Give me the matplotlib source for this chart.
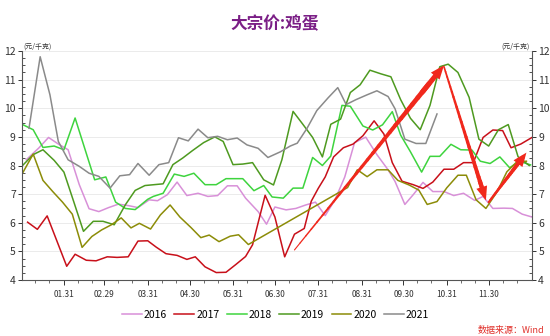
import matplotlib
matplotlib.use("Agg")
import matplotlib.pyplot as plt
import numpy as np
from matplotlib.collections import LineCollection
from matplotlib.ticker import FixedLocator, MultipleLocator

plt.rcParams['font.family'] = ['Noto Sans CJK SC', 'DejaVu Sans']

# x = dia del anio (base 2020, bisiesto), y = precio (元/千克)
d2016 = [4, 13, 20, 27, 34, 42, 49, 56, 63, 70, 77, 84, 92, 98, 105, 112, 119, 127, 134, 141, 148, 155, 161, 170,
         176, 182, 190, 197, 204, 211, 218, 225, 232, 239, 247, 255, 263, 268, 275, 281, 288, 295, 303, 310, 317,
         325, 331, 338, 346, 352, 359, 366]
v2016 = [8.2, 8.61, 8.98, 8.75, 8.55, 7.33, 6.49, 6.39, 6.53, 6.65, 6.6, 6.53, 6.8, 6.77, 6.98, 7.42, 6.95, 7.03,
         6.92, 6.95, 7.29, 7.29, 6.86, 6.39, 5.95, 6.55, 6.45, 6.5, 6.62, 6.72, 6.25, 6.8, 7.6, 8.8, 8.99, 8.38,
         7.85, 7.44, 6.64, 6.98, 7.41, 7.09, 7.09, 6.95, 7.03, 6.78, 6.92, 6.5, 6.51, 6.5, 6.3, 6.2]

d2017 = [5, 12, 19, 33, 39, 47, 54, 62, 69, 77, 84, 91, 97, 104, 112, 119, 125, 132, 140, 147, 154, 161, 166, 175,
         182, 189, 196, 203, 208, 213, 218, 224, 231, 238, 245, 253, 260, 266, 273, 281, 288, 295, 303, 310, 317,
         324, 331, 338, 345, 351, 358, 366]
v2017 = [6.02, 5.77, 6.24, 4.48, 4.9, 4.69, 4.67, 4.81, 4.79, 4.81, 5.36, 5.37, 5.15, 4.92, 4.86, 4.72, 4.81, 4.46,
         4.26, 4.27, 4.54, 4.82, 5.23, 6.96, 6.2, 4.81, 5.6, 5.8, 6.75, 7.2, 7.6, 8.3, 8.62, 8.75, 9.04, 9.56, 9.1,
         8.1, 7.45, 7.33, 7.2, 7.42, 7.87, 7.87, 8.1, 8.1, 8.98, 9.24, 9.22, 8.62, 8.75, 8.98]

d2018 = [1, 9, 16, 24, 31, 39, 53, 61, 68, 75, 82, 91, 95, 102, 110, 117, 124, 132, 140, 147, 159, 167, 174, 180,
         188, 195, 202, 209, 216, 222, 230, 236, 245, 252, 259, 266, 272, 279, 287, 293, 300, 308, 315, 323, 329,
         336, 343, 350, 357, 365]
v2018 = [9.44, 9.25, 8.63, 8.68, 8.55, 9.66, 7.5, 7.6, 6.72, 6.5, 6.46, 6.82, 6.92, 7.03, 7.7, 7.62, 7.73, 7.33,
         7.33, 7.54, 7.54, 7.12, 7.3, 6.9, 6.86, 7.21, 7.21, 8.28, 8.0, 8.33, 10.1, 10.07, 9.38, 9.24, 9.42, 9.88,
         9.06, 8.48, 7.77, 8.32, 8.32, 8.74, 8.55, 8.54, 8.15, 8.07, 8.3, 7.92, 8.15, 8.02]

d2019 = [1, 9, 16, 24, 31, 38, 45, 52, 59, 67, 75, 82, 89, 102, 109, 116, 123, 131, 139, 145, 152, 159, 166, 174,
         181, 187, 195, 202, 209, 216, 222, 229, 236, 243, 250, 258, 265, 272, 279, 286, 293, 300, 306, 313, 321,
         328, 335, 342, 349, 356, 364]
v2019 = [7.98, 8.38, 8.55, 8.18, 7.77, 6.74, 5.7, 6.05, 6.05, 5.93, 6.63, 7.13, 7.3, 7.36, 8.03, 8.26, 8.52, 8.8,
         9.0, 8.84, 8.03, 8.05, 8.1, 7.5, 7.32, 8.2, 9.89, 9.44, 8.98, 8.3, 9.44, 9.62, 10.55, 10.82, 11.33, 11.2,
         11.1, 10.3, 9.65, 9.25, 10.1, 11.45, 11.54, 11.25, 10.38, 8.92, 8.68, 9.25, 9.43, 8.31, 8.0]

d2020 = [1, 9, 16, 23, 30, 37, 44, 51, 58, 65, 72, 79, 85, 93, 100, 107, 114, 122, 129, 135, 142, 150, 156, 163,
         234, 241, 248, 255, 263, 270, 278, 285, 291, 298, 305, 313, 319, 326, 333, 341, 348, 355, 362]
v2020 = [7.7, 8.4, 7.48, 7.09, 6.72, 6.3, 5.14, 5.52, 5.75, 5.93, 6.17, 5.82, 5.98, 5.78, 6.27, 6.62, 6.2, 5.83,
         5.48, 5.57, 5.34, 5.53, 5.58, 5.24, 7.23, 7.85, 7.61, 7.85, 7.85, 7.48, 7.32, 7.14, 6.64, 6.74, 7.22, 7.66,
         7.66, 6.8, 6.5, 7.08, 7.78, 8.12, 8.15]

d2021 = [6, 14, 21, 27, 34, 42, 49, 56, 64, 71, 78, 84, 92, 99, 106, 113, 120, 127, 134, 141, 148, 155, 162, 170,
         177, 186, 193, 198, 205, 212, 220, 227, 233, 240, 248, 255, 263, 268, 275, 283, 290, 298]
v2021 = [9.3, 11.8, 10.47, 8.84, 8.2, 7.97, 7.73, 7.62, 7.21, 7.64, 7.68, 8.07, 7.66, 8.03, 8.1, 8.97, 8.86, 9.27,
         8.97, 9.02, 8.9, 8.96, 8.72, 8.6, 8.28, 8.48, 8.68, 8.78, 9.3, 9.92, 10.36, 10.72, 10.13, 10.3, 10.47,
         10.61, 10.41, 9.98, 8.92, 8.77, 8.77, 9.8]

series = [("2016", d2016, v2016, "#d890d8"),
          ("2017", d2017, v2017, "#c8101a"),
          ("2018", d2018, v2018, "#3ed43e"),
          ("2019", d2019, v2019, "#4e9a20"),
          ("2020", d2020, v2020, "#8c8c08"),
          ("2021", d2021, v2021, "#8a8a8a")]

# flechas rojas de anotacion: (desde, hasta, grosor inicial, grosor final)
flechas = [((196, 5.05), (303, 11.5), 0.8, 3.6),
           ((303, 11.45), (333, 6.78), 1.2, 3.0),
           ((335, 6.72), (362, 8.45), 1.5, 3.0)]
rojo = "#f0281c"

fin_mes = [31, 60, 91, 121, 152, 182, 213, 244, 274, 305, 335, 366]
etiquetas = ["01.31", "02.29", "03.31", "04.30", "05.31", "06.30", "07.31", "08.31", "09.30", "10.31", "11.30"]

fig = plt.figure(figsize=(5.5, 3.36), dpi=100)
ax = fig.add_axes([22/550., 1-280/336., 510/550., 229/336.])

for nombre, xs, ys, c in series:
    ax.plot(xs, ys, color=c, lw=1.1, label=nombre)

# flecha: cuerpo que se va engrosando + punta
for (x0, y0), (x1, y1), w0, w1 in flechas:
    t = np.linspace(0, 0.9, 25)
    px = x0 + (x1 - x0) * t
    py = y0 + (y1 - y0) * t
    segs = [[(px[i], py[i]), (px[i+1], py[i+1])] for i in range(len(t) - 1)]
    ax.add_collection(LineCollection(segs, colors=rojo, linewidths=np.linspace(w0, w1, len(segs)),
                                     capstyle="round", zorder=5))
    xa = x0 + (x1 - x0) * 0.85
    ya = y0 + (y1 - y0) * 0.85
    ax.annotate("", xy=(x1, y1), xytext=(xa, ya), zorder=6,
                arrowprops=dict(arrowstyle="simple,head_length=1.0,head_width=0.8,tail_width=%.2f" % (w1 / 10.),
                                color=rojo, lw=0, shrinkA=0, shrinkB=0, mutation_scale=10))

ax.set_xlim(1, 366)
ax.set_ylim(4, 12)
ax.xaxis.set_major_locator(FixedLocator(fin_mes[:11]))
ax.set_xticklabels(etiquetas)
minor = []
inicio = 0
for m in fin_mes:
    minor += [inicio + 10, inicio + 20]
    inicio = m
ax.xaxis.set_minor_locator(FixedLocator(minor))
ax.yaxis.set_major_locator(MultipleLocator(1))
ax.yaxis.set_minor_locator(MultipleLocator(0.25))

ax.grid(axis="y", color="#ebebeb", lw=0.7)
ax.set_axisbelow(True)
ax.spines["top"].set_visible(False)
for s in ["left", "right", "bottom"]:
    ax.spines[s].set_color("#555555")
    ax.spines[s].set_linewidth(0.8)

ax.tick_params(axis="y", which="both", left=True, right=True, labelleft=True, labelright=True,
               labelsize=7.5, colors="#333333", pad=1.5)
ax.tick_params(axis="y", which="major", direction="out", length=3, width=0.7)
ax.tick_params(axis="y", which="minor", direction="in", length=2, width=0.6)
ax.tick_params(axis="x", which="major", direction="out", length=3.5, width=0.7, labelsize=6,
               colors="#333333", pad=4)
ax.tick_params(axis="x", which="minor", direction="out", length=2, width=0.6, colors="#555555")

fig.text(0.5, 0.927, "大宗价:鸡蛋", ha="center", va="center", fontsize=12, fontweight="bold", color="#7b1f86")
fig.text(23/550., 1-47/336., "(元/千克)", ha="left", va="center", fontsize=5, color="#333333")
fig.text(530/550., 1-47/336., "(元/千克)", ha="right", va="center", fontsize=5, color="#333333")
fig.text(544/550., 1-331/336., "数据来源：Wind", ha="right", va="center", fontsize=6.5,
         style="italic", color="#e0302a")

fig.legend(loc="center", bbox_to_anchor=(0.501, 1-315/336.), ncol=6, frameon=False, fontsize=7.5,
           handlelength=1.9, handletextpad=0.2, columnspacing=0.7)

plt.savefig("out.png", dpi=100)
